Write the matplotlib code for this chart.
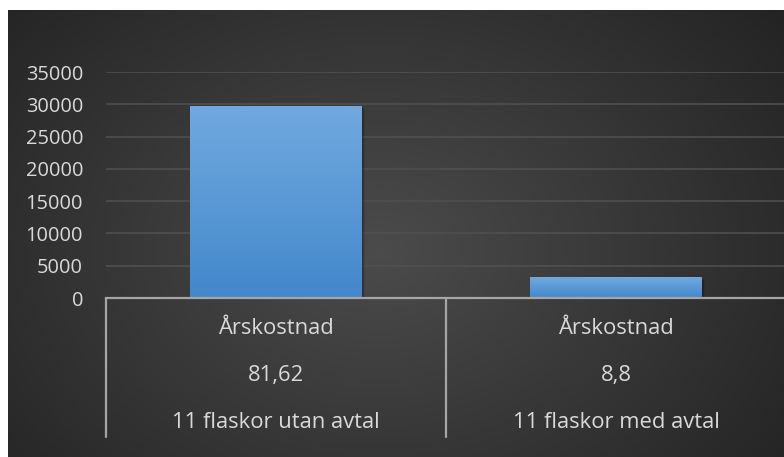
import numpy as np
import matplotlib
matplotlib.use("Agg")
import matplotlib.pyplot as plt
from matplotlib.colors import LinearSegmentedColormap

# chart data
label_top = ["Årskostnad", "Årskostnad"]
label_mid = ["81,62", "8,8"]
label_bottom = ["11 flaskor utan avtal", "11 flaskor med avtal"]
values = [29791, 3212]
yticks = [0, 5000, 10000, 15000, 20000, 25000, 30000, 35000]

W, H = 784, 457
fig = plt.figure(figsize=(W / 72, H / 72), dpi=72)
fig.patch.set_facecolor("white")
plt.rcParams["font.family"] = ["Open Sans", "DejaVu Sans"]

# dark radial background panel
bg = fig.add_axes([8 / W, 0, (W - 8) / W, (H - 10) / H])
bg.set_axis_off()
yy, xx = np.mgrid[0:447, 0:776]
r = np.sqrt(((xx - 370) / 560) ** 2 + ((yy - 240) / 420) ** 2)
shade = np.clip(0.295 - 0.17 * r, 0.14, 0.30)
bg.imshow(np.dstack([shade] * 3), aspect="auto", extent=[0, 1, 0, 1])
bg.set_xlim(0, 1)
bg.set_ylim(0, 1)

# main plot area
x0, x1 = 106, 786
ytop, ybase = 72, 298
ax = fig.add_axes([x0 / W, (H - ybase) / H, (x1 - x0) / W, (ybase - ytop) / H])
ax.patch.set_alpha(0)
for s in ax.spines.values():
    s.set_visible(False)
ax.set_yticks(yticks)
ax.set_yticklabels([str(t) for t in yticks])
ax.tick_params(axis="y", length=0, pad=23, labelsize=20, labelcolor="#d9d9d9")
ax.set_xticks([])
ax.yaxis.grid(True, color="#505050", lw=1.6)
ax.set_axisbelow(True)

grad = LinearSegmentedColormap.from_list("bar", ["#4388cb", "#71a9df"])
xpos = np.arange(len(values))
bw = 0.503
for x, v in zip(xpos, values):
    # soft shadow
    for k in range(4):
        ax.bar(x + 0.004 + k * 0.002, v, width=bw, bottom=-250 - k * 60,
               color="black", alpha=0.08, zorder=2, linewidth=0)
    b = ax.bar(x, v, width=bw, color="#5a9ad8", zorder=3, linewidth=0)[0]
    img = ax.imshow(np.linspace(0, 1, 100).reshape(-1, 1), cmap=grad, origin="lower",
                    extent=[x - bw / 2, x + bw / 2, 0, v], aspect="auto", zorder=4)
    img.set_clip_path(b)
ax.set_xlim(-0.5, len(values) - 0.5)
ax.set_ylim(0, 35000)

# category axis line and separators
ax.axhline(0, color="#a6a6a6", lw=2.2, zorder=5, clip_on=False)
for xs in np.arange(len(values)) - 0.5:
    ax.annotate("", xy=(xs, 0), xycoords=("data", "axes fraction"),
                xytext=(xs, -139), textcoords=("data", "offset points"),
                arrowprops=dict(arrowstyle="-", color="#a6a6a6", lw=2.2,
                                shrinkA=0, shrinkB=0), annotation_clip=False)

# multi-level labels
for x, a, b, c in zip(xpos, label_top, label_mid, label_bottom):
    for txt, off in [(a, 30), (b, 77), (c, 125)]:
        ax.annotate(txt, xy=(x, 0), xycoords=("data", "axes fraction"),
                    xytext=(0, -off), textcoords="offset points",
                    ha="center", va="center", fontsize=22, color="#d9d9d9",
                    annotation_clip=False)

fig.savefig("out.png", dpi=72, facecolor=fig.get_facecolor())
